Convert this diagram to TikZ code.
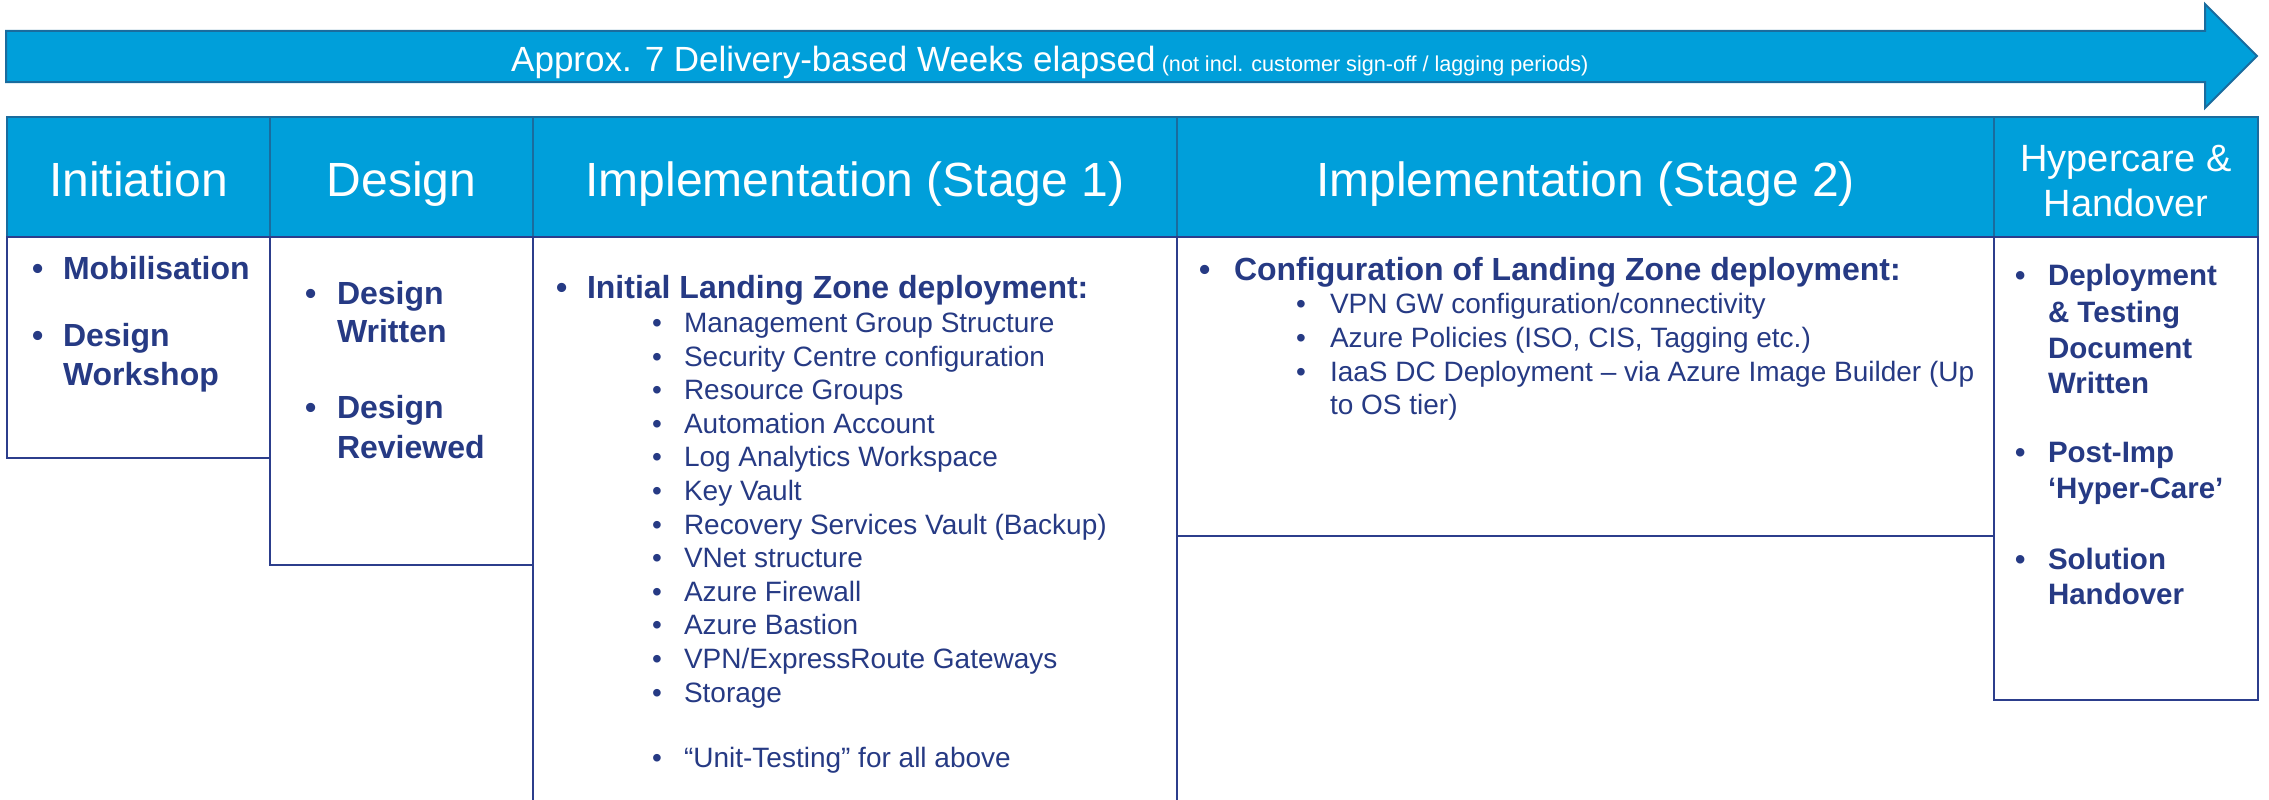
\documentclass[tikz,border=0pt]{standalone}
\usepackage{fontspec}
\setmainfont{Liberation Sans}
\definecolor{azure}{HTML}{009FDA}
\definecolor{hdrline}{HTML}{1A6C9E}
\definecolor{boxline}{HTML}{2C3E8C}
\definecolor{navytext}{HTML}{263A84}
\begin{document}
\begin{tikzpicture}[x=1pt,y=-1pt,
  tx/.style={anchor=base west, inner sep=0pt, outer sep=0pt, text=navytext},
  hdr/.style={anchor=base, inner sep=0pt, outer sep=0pt, text=white, font=\fontsize{48}{56}\selectfont},
  hdrsmall/.style={anchor=base, inner sep=0pt, outer sep=0pt, text=white, font=\fontsize{38}{45}\selectfont},
  bigb/.style={tx, font=\fontsize{32}{38}\selectfont\bfseries},
  midb/.style={tx, font=\fontsize{29.5}{35}\selectfont\bfseries},
  sub/.style={tx, font=\fontsize{28}{33}\selectfont},
  boxpen/.style={draw=boxline, line width=2.5pt},
  hdrpen/.style={draw=hdrline, line width=2pt}
]
\useasboundingbox (0,0) rectangle (2269,800);

% timeline arrow
\draw[hdrpen, fill=azure, line join=miter]
  (6,31) -- (2205,31) -- (2205,4) -- (2257,56) -- (2205,108) -- (2205,82) -- (6,82) -- cycle;
\node[anchor=base west, inner sep=0pt, text=white] (arrowtext) at (511,71)
  {{\fontsize{35}{40}\selectfont Approx. 7 Delivery-based Weeks elapsed}{\fontsize{21.6}{25}\selectfont\ (not incl. customer sign-off / lagging periods)}};

% header band
\draw[hdrpen, fill=azure] (7,117) rectangle (2258,237);
\foreach \xx in {270,533,1177,1994} \draw[hdrpen] (\xx,117) -- (\xx,237);

% content boxes
\draw[boxpen] (7,237) rectangle (270,458);
\draw[boxpen] (270,237) rectangle (533,565);
\draw[boxpen] (533,812) -- (533,237) -- (1177,237) -- (1177,812);
\draw[boxpen] (1177,237) rectangle (1994,536);
\draw[boxpen] (1994,237) rectangle (2258,700);

% header texts
\node[hdr] (h1) at (138.5,196) {Initiation};
\node[hdr] (h2) at (401.5,196) {Design};
\node[hdr] (h3) at (855,196) {Implementation (Stage 1)};
\node[hdr] (h4) at (1585.5,196) {Implementation (Stage 2)};
\node[hdrsmall] (h5a) at (2126,171) {Hypercare \&};
\node[hdrsmall] (h5b) at (2126,216) {Handover};

% Initiation
\node[bigb] (ib1) at (32,279) {•};
\node[bigb] (it1) at (63,279) {Mobilisation};
\node[bigb] (ib2) at (32,346) {•};
\node[bigb] (it2) at (63,346) {Design};
\node[bigb] (it3) at (63,385) {Workshop};

% Design
\node[bigb] (db1) at (305,304) {•};
\node[bigb] (dt1) at (337,304) {Design};
\node[bigb] (dt2) at (337,342) {Written};
\node[bigb] (db2) at (305,418) {•};
\node[bigb] (dt3) at (337,418) {Design};
\node[bigb] (dt4) at (337,458) {Reviewed};

% Implementation stage 1
\node[bigb] (s1b) at (556,298) {•};
\node[bigb] (s1t) at (587,298) {Initial Landing Zone deployment:};
\foreach \txt [count=\k from 0] in {Management Group Structure, Security Centre configuration, Resource Groups, Automation Account, Log Analytics Workspace, Key Vault, Recovery Services Vault (Backup), VNet structure, Azure Firewall, Azure Bastion, VPN/ExpressRoute Gateways, Storage}{
  \node[sub] (s1sb\k) at (652,{332.5+33.6*\k}) {•};
  \node[sub] (s1st\k) at (684,{332.5+33.6*\k}) {\txt};
}
\node[sub] (s1ub) at (652,767) {•};
\node[sub] (s1ut) at (684,767) {“Unit-Testing” for all above};

% Implementation stage 2
\node[bigb] (s2b) at (1199,280) {•};
\node[bigb] (s2t) at (1234,280) {Configuration of Landing Zone deployment:};
\node[sub] (s2b1) at (1296,313) {•};
\node[sub] (s2t1) at (1330,313) {VPN GW configuration/connectivity};
\node[sub] (s2b2) at (1296,347) {•};
\node[sub] (s2t2) at (1330,347) {Azure Policies (ISO, CIS, Tagging etc.)};
\node[sub] (s2b3) at (1296,381) {•};
\node[sub] (s2t3) at (1330,381) {IaaS DC Deployment – via Azure Image Builder (Up};
\node[sub] (s2t4) at (1330,414) {to OS tier)};

% Hypercare
\node[midb] (hb1) at (2015,285) {•};
\node[midb] (ht1) at (2048,285) {Deployment};
\node[midb] (ht2) at (2048,322) {\& Testing};
\node[midb] (ht3) at (2048,358) {Document};
\node[midb] (ht4) at (2048,393) {Written};
\node[midb] (hb2) at (2015,462) {•};
\node[midb] (ht5) at (2048,462) {Post-Imp};
\node[midb] (ht6) at (2048,498) {‘Hyper-Care’};
\node[midb] (hb3) at (2015,569) {•};
\node[midb] (ht7) at (2048,569) {Solution};
\node[midb] (ht8) at (2048,604) {Handover};
\end{tikzpicture}
\end{document}
